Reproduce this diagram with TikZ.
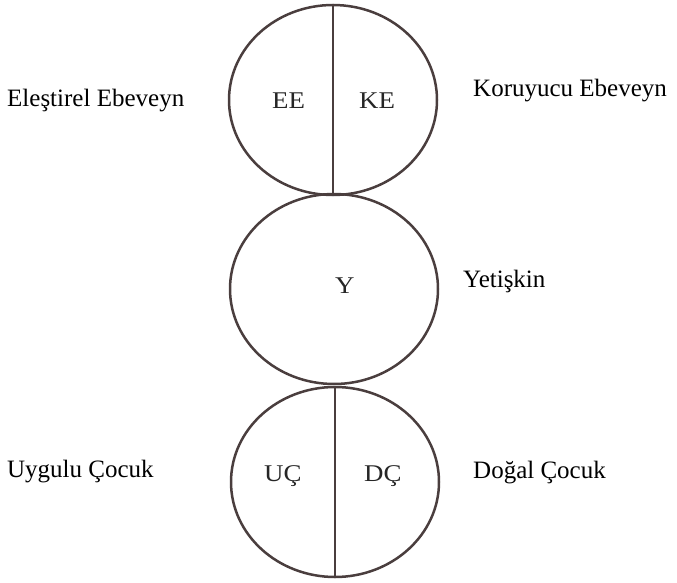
\documentclass[tikz,border=0pt]{standalone}
\usepackage{fontspec}
\setmainfont{Liberation Serif}
\newfontfamily\innerfont[FakeStretch=1.12]{Liberation Serif}
\usetikzlibrary{shapes.geometric}
\definecolor{linec}{HTML}{4A3E3E}
\begin{document}
\begin{tikzpicture}[x=1pt,y=-1pt,
  ring/.style={ellipse, draw=linec, line width=2.5pt, minimum width=208pt, minimum height=190pt, inner sep=0pt},
  divider/.style={draw=linec, line width=2.3pt},
  inlabel/.style={anchor=base west, inner sep=0pt, font=\innerfont\fontsize{24}{24}\selectfont, text=black!85},
  sidelabel/.style={anchor=base west, inner sep=0pt, font=\fontsize{25}{25}\selectfont, text=black}]
\useasboundingbox (0,0) rectangle (677,583);
\node[ring] (P) at (333,100) {};
\node[ring] (A) at (334,289) {};
\node[ring] (C) at (335,482) {};
\draw[divider] (P.north) -- (P.south);
\draw[divider] (C.north) -- (C.south);
\node[inlabel] (ee) at (272,109) {EE};
\node[inlabel] (ke) at (359,109) {KE};
\node[inlabel] (y) at (335,293) {Y};
\node[inlabel] (uc) at (264,481) {UÇ};
\node[inlabel] (dc) at (364,481) {DÇ};
\node[sidelabel] (el) at (7,107) {Eleştirel Ebeveyn};
\node[sidelabel] (ko) at (473,97) {Koruyucu Ebeveyn};
\node[sidelabel] (ye) at (463,287) {Yetişkin};
\node[sidelabel] (uy) at (7,477) {Uygulu Çocuk};
\node[sidelabel] (do) at (473,478) {Doğal Çocuk};
\end{tikzpicture}
\end{document}
